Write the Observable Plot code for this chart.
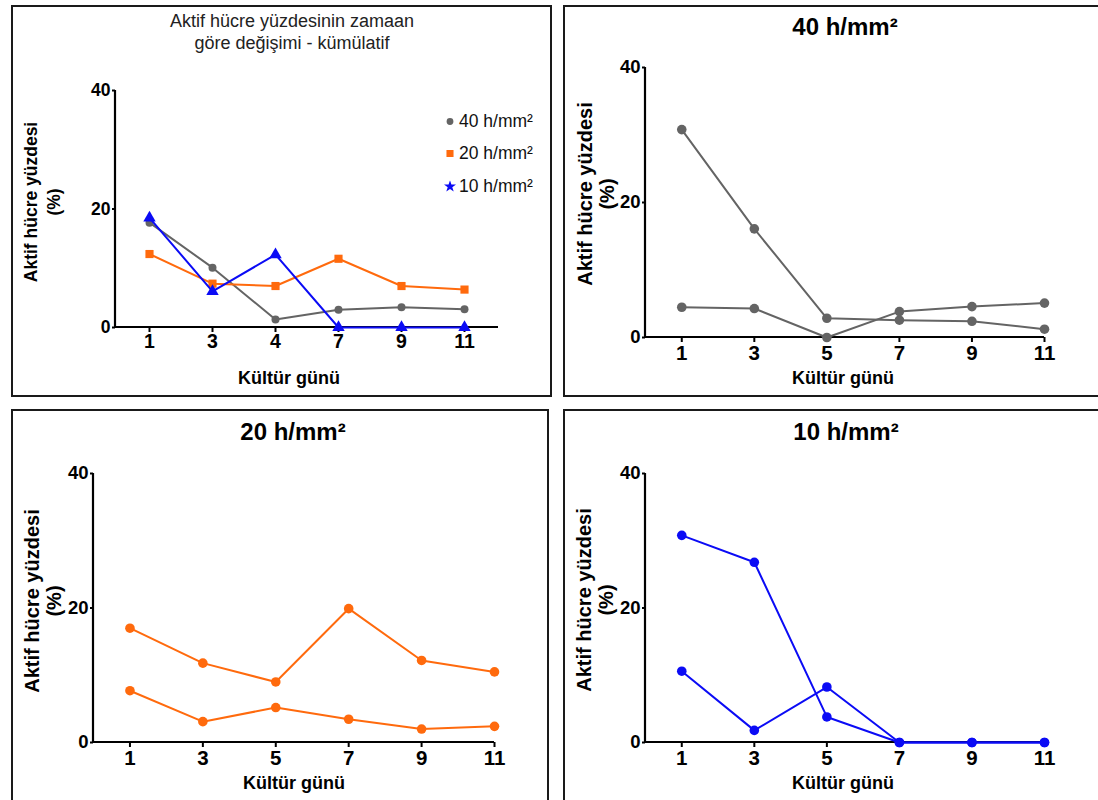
<!DOCTYPE html>
<html><head><meta charset="utf-8">
<script src="https://cdn.jsdelivr.net/npm/d3@7"></script>
<script src="https://cdn.jsdelivr.net/npm/@observablehq/plot@0.6"></script>
<style>
body{margin:0;width:1098px;height:800px;overflow:hidden;background:#fff;font-family:"Liberation Sans",Arial,sans-serif;position:relative}
.panel{position:absolute;border:2px solid #1a1a1a;box-sizing:border-box}
.panel svg{position:absolute;left:0;top:0}
.t{position:absolute;transform:translate(-50%,-50%);white-space:nowrap;color:#000;text-align:center}
.yl{position:absolute;transform:translate(-50%,-50%) rotate(-90deg);white-space:nowrap;text-align:center;font-weight:bold;color:#000}
.lg{position:absolute;display:flex;align-items:center;font-size:17.5px;color:#111;white-space:nowrap;transform:translateY(-50%)}
.lg svg{margin-right:3px}
.p1 g[aria-label="x-axis tick label"]{font-size:19.5px;font-weight:bold}
.p1 g[aria-label="y-axis tick label"]{font-size:17.5px;font-weight:bold}
.pn g[aria-label="x-axis tick label"]{font-size:20.5px;font-weight:bold}
.pn g[aria-label="y-axis tick label"]{font-size:18.5px;font-weight:bold}
</style></head><body>
<script>
// ---- data ----
const days = [1, 3, 5, 7, 9, 11];
const cumDays = ["1", "3", "4", "7", "9", "11"];
const series = ["40 h/mm²", "20 h/mm²", "10 h/mm²"];
const colors = ["#646464", "#ff6a0d", "#0b0bf5"];
const cumSymbols = ["circle", "square", "triangle"];
const cum40 = [17.7, 10.1, 1.35, 3.0, 3.4, 3.1];
const cum20 = [12.4, 7.4, 7.0, 11.6, 7.0, 6.4];
const cum10 = [18.5, 6.1, 12.3, 0, 0, 0];
const d40a = [30.8, 16.1, 2.85, 2.56, 2.4, 1.23];
const d40b = [4.48, 4.29, 0, 3.84, 4.58, 5.1];
const d20a = [17.0, 11.8, 9.0, 19.9, 12.2, 10.5];
const d20b = [7.7, 3.1, 5.2, 3.46, 2.0, 2.4];
const d10a = [30.8, 26.8, 3.8, 0, 0, 0];
const d10b = [10.6, 1.8, 8.25, 0, 0, 0];
const yTicks = [0, 20, 40];
const yLabel = ["Aktif hücre yüzdesi", "(%)"];
const xLabel = "Kültür günü";
const cumTitle = ["Aktif hücre yüzdesinin zamaan", "göre değişimi - kümülatif"];

const FONT = '"Liberation Sans", Arial, Helvetica, sans-serif';

function axisLines(index, scales, values, dims) {
  const p = document.createElementNS("http://www.w3.org/2000/svg", "path");
  const {marginLeft: l, marginTop: t, width: w, height: h, marginRight: r, marginBottom: b} = dims;
  p.setAttribute("d", `M${l},${t}V${h - b}H${w - r}`);
  p.setAttribute("fill", "none");
  p.setAttribute("stroke", "#000");
  p.setAttribute("stroke-width", 2.2);
  return p;
}

function el(cls, html, x, y, style) {
  const d = document.createElement("div");
  d.className = cls;
  d.innerHTML = html;
  d.style.left = x + "px";
  d.style.top = y + "px";
  Object.assign(d.style, style || {});
  document.body.appendChild(d);
  return d;
}

function panel(box, svgNode, cls) {
  const d = document.createElement("div");
  d.className = "panel " + cls;
  Object.assign(d.style, {left: box.l + "px", top: box.t + "px", width: box.w + "px", height: box.h + "px"});
  d.appendChild(svgNode);
  document.body.appendChild(d);
}

// ---- Panel 1: cumulative ----
{
  const data = [cum40, cum20, cum10].flatMap((arr, s) =>
    arr.map((v, i) => ({day: cumDays[i], v, s: series[s]})));
  const marks = [axisLines,
    Plot.axisX({tickSize: 5, tickPadding: 2, strokeWidth: 2, label: null, fontSize: 19.5, fontWeight: "bold"}),
    Plot.axisY({ticks: yTicks, tickSize: 3, tickPadding: 2, strokeWidth: 2, label: null, fontSize: 17.5, fontWeight: "bold"})];
  series.forEach((s, k) => {
    const sub = data.filter(d => d.s === s);
    marks.push(Plot.line(sub, {x: "day", y: "v", stroke: colors[k], strokeWidth: 2}));
    marks.push(Plot.dot(sub, {x: "day", y: "v", fill: colors[k], symbol: cumSymbols[k], r: k === 0 ? 4 : 4.6}));
  });
  const svg = Plot.plot({
    width: 537, height: 388, marginLeft: 102, marginRight: 52, marginTop: 83, marginBottom: 68,
    x: {type: "point", domain: cumDays, padding: 0.5},
    y: {domain: [0, 40]},
    style: {fontFamily: FONT, fontWeight: "bold", fontSize: "17px", color: "#000", background: "transparent", overflow: "visible"},
    marks
  });
  panel({l: 11, t: 5, w: 541, h: 392}, svg, "p1");
  el("t", cumTitle.join("<br>"), 292, 32, {fontSize: "18px", lineHeight: "22px", color: "#222"});
  el("yl", yLabel.join("<br>"), 43, 202, {fontSize: "17.5px", lineHeight: "23px"});
  el("t", xLabel, 289, 378, {fontSize: "18px", fontWeight: "bold"});
  // legend
  const lgY = [121, 153, 186];
  const symFns = [d3.symbolCircle, d3.symbolSquare, d3.symbolStar];
  const symSizes = [36, 50, 45];
  series.forEach((s, k) => {
    const path = d3.symbol(symFns[k], symSizes[k])();
    el("lg", `<svg width="12" height="12" viewBox="-6 -6 12 12"><path d="${path}" fill="${colors[k]}"/></svg><span>${s}</span>`,
      444, lgY[k]);
  });
}

// ---- Panels 2-4 ----
const panels = [
  {title: series[0], a: d40a, b: d40b, color: colors[0], box: {l: 563, t: 5, w: 545, h: 392},
   m: {top: 60, bottom: 58}, h: 388, titleXY: [845, 27], ylXY: [596, 194], xlXY: [843, 378]},
  {title: series[1], a: d20a, b: d20b, color: colors[1], box: {l: 11, t: 409, w: 538, h: 400},
   m: {top: 62, bottom: 65}, h: 396, titleXY: [293, 432], ylXY: [43, 601], xlXY: [294, 783]},
  {title: series[2], a: d10a, b: d10b, color: colors[2], box: {l: 563, t: 409, w: 545, h: 400},
   m: {top: 62, bottom: 65}, h: 396, titleXY: [846, 432], ylXY: [595, 600], xlXY: [843, 783]}
];
panels.forEach(p => {
  const data = [...p.a.map((v, i) => ({day: days[i], v, run: "a"})), ...p.b.map((v, i) => ({day: days[i], v, run: "b"}))];
  const w = p.box.w - 4;
  const svg = Plot.plot({
    width: w, height: p.h, marginLeft: 80, marginRight: w - (p.box.l === 11 ? 481 : 479),
    marginTop: p.m.top, marginBottom: p.m.bottom,
    x: {type: "linear", domain: [0, 11]},
    y: {domain: [0, 40]},
    style: {fontFamily: FONT, fontWeight: "bold", fontSize: "19px", color: "#000", background: "transparent", overflow: "visible"},
    marks: [
      axisLines,
      Plot.axisX({ticks: days, tickSize: 5, tickPadding: 3, strokeWidth: 2, label: null, fontSize: 20.5, fontWeight: "bold"}),
      Plot.axisY({ticks: yTicks, tickSize: 3, tickPadding: 2, strokeWidth: 2, label: null, fontSize: 18.5, fontWeight: "bold"}),
      Plot.line(data, {x: "day", y: "v", z: "run", stroke: p.color, strokeWidth: 2}),
      Plot.dot(data, {x: "day", y: "v", fill: p.color, r: 4.8})
    ]
  });
  panel(p.box, svg, "pn");
  el("t", p.title, p.titleXY[0], p.titleXY[1], {fontSize: "24px", fontWeight: "bold"});
  el("yl", yLabel.join("<br>"), p.ylXY[0], p.ylXY[1], {fontSize: "20px", lineHeight: "22px"});
  el("t", xLabel, p.xlXY[0], p.xlXY[1], {fontSize: "18px", fontWeight: "bold"});
});
</script>
</body></html>
